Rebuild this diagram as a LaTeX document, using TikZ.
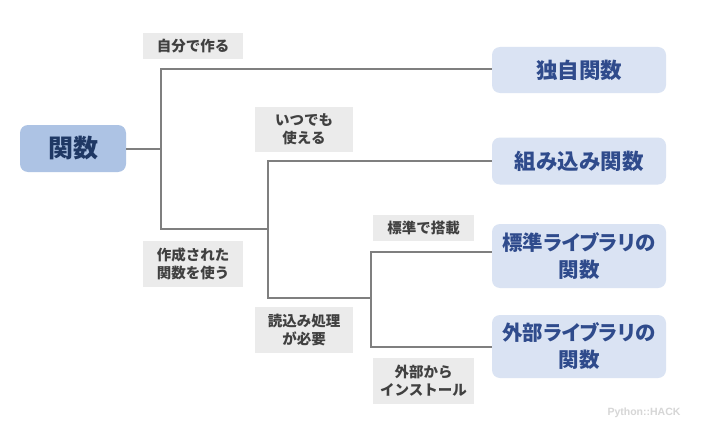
\documentclass[tikz,border=0pt]{standalone}
\usepackage{fontspec}
\setmainfont{Noto Sans CJK JP}
\newfontfamily\paltfont[RawFeature=+palt]{Noto Sans CJK JP}
\newfontfamily\wmfont{Liberation Sans}
\definecolor{mainfill}{HTML}{ADC3E4}
\definecolor{mainText}{HTML}{1F3864}
\definecolor{subfill}{HTML}{DAE3F3}
\definecolor{subText}{HTML}{2F4B8C}
\definecolor{labfill}{HTML}{EBEBEB}
\definecolor{labText}{HTML}{404040}
\definecolor{lineC}{HTML}{7F7F7F}
\definecolor{wmC}{HTML}{D6D6D6}
\tikzset{
  mainbox/.style={fill=mainfill, rounded corners=8pt, minimum width=106pt, minimum height=47pt, inner sep=0pt, text=mainText, font=\fontsize{25}{29}\selectfont\bfseries},
  subbox/.style={fill=subfill, rounded corners=8pt, minimum width=174pt, inner sep=0pt, align=center, text=subText, font=\fontsize{21.5}{27}\selectfont\bfseries},
  subboxtwo/.style={subbox, font=\paltfont\fontsize{20.5}{27}\selectfont\bfseries},
  labbox/.style={fill=labfill, inner sep=0pt, align=center, text=labText, font=\fontsize{14.5}{18}\selectfont\bfseries},
  conn/.style={draw=lineC, line width=2pt},
}
\begin{document}
\begin{tikzpicture}[x=1pt,y=-1pt]
\useasboundingbox[fill=white] (0,0) rectangle (706,444);
\node[mainbox] (m) at (73,148.5) {関数};
\node[subbox, minimum height=46pt] (b1) at (579,70) {独自関数};
\node[subbox, minimum height=47pt] (b2) at (579,161) {組み込み関数};
\node[subboxtwo, minimum height=64pt] (b3) at (579,256) {標準ライブラリの\\関数};
\node[subboxtwo, minimum height=63pt] (b4) at (579,346.5) {外部ライブラリの\\関数};

\node[labbox, minimum width=100pt, minimum height=26pt] (l1) at (193,46) {自分で作る};
\node[labbox, minimum width=98pt, minimum height=45pt] (l2) at (304,129.5) {いつでも\\使える};
\node[labbox, minimum width=100pt, minimum height=46pt] (l3) at (193,264) {作成された\\関数を使う};
\node[labbox, minimum width=101pt, minimum height=26pt] (l4) at (423.5,228) {標準で搭載};
\node[labbox, minimum width=98pt, minimum height=46pt] (l5) at (304,330) {読込み処理\\が必要};
\node[labbox, minimum width=101pt, minimum height=46pt] (l6) at (423.5,381) {外部から\\インストール};

\coordinate (c1) at (161,148.5);
\coordinate (c2) at (268,229);
\coordinate (c3) at (371,298);

\draw[conn] (m.east) -- (c1);
\draw[conn] ([yshift=1.5pt]b1.west) -| (c1) |- (c2);
\draw[conn] (b2.west) -| (c2) |- (c3);
\draw[conn] ([yshift=4pt]b3.west) -| (c3) |- (b4.west);

\node[text=wmC, font=\wmfont\fontsize{10.5}{12}\selectfont\bfseries, inner sep=0pt] (wm) at (644,413) {Python::HACK};
\end{tikzpicture}
\end{document}
